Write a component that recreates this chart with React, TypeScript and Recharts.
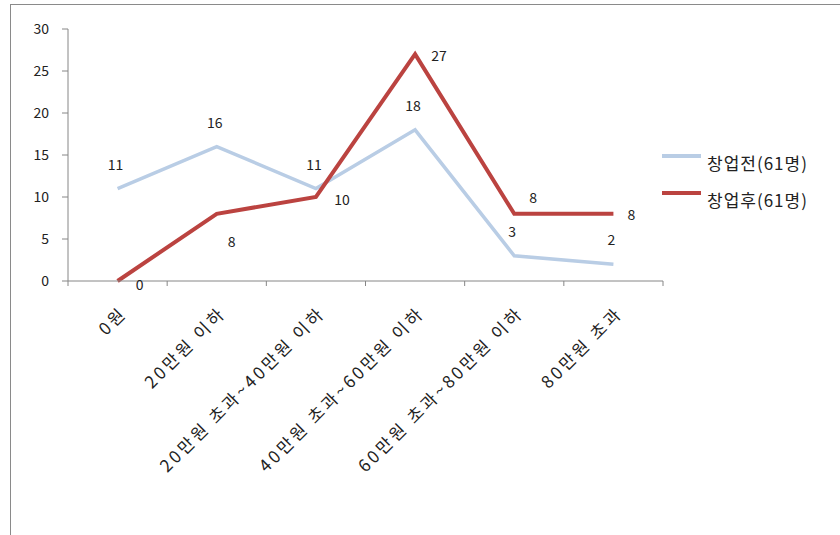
import { LineChart, Line, XAxis, YAxis, Legend, LabelList } from 'recharts';

const categories = [
  '0원',
  '20만원 이하',
  '20만원 초과~40만원 이하',
  '40만원 초과~60만원 이하',
  '60만원 초과~80만원 이하',
  '80만원 초과',
];
const beforeCounts = [11, 16, 11, 18, 3, 2];
const afterCounts = [0, 8, 10, 27, 8, 8];
const seriesNames = ['창업전(61명)', '창업후(61명)'];
const yTicks = [0, 5, 10, 15, 20, 25, 30];

// where each 창업후 value label sits relative to its point
const afterLabelShift = [
  [22, 3],
  [15, 27],
  [26, 2],
  [24, 1],
  [19, -17],
  [18, 0],
];

const BLUE = '#B9CDE5';
const RED = '#BB4340';
const AXIS = '#868686';
const FONT = "'Noto Sans CJK KR', 'Noto Sans', sans-serif";

const data = categories.map((name, i) => ({
  idx: i,
  name,
  before: beforeCounts[i],
  after: afterCounts[i],
}));

// category boundaries get tick marks, category centres get the labels
const xTicks = categories.flatMap((_, i) => [i - 0.5, i]).concat(categories.length - 0.5);

function CategoryTick({ x, y, payload }: any) {
  const v = payload.value;
  if (!Number.isInteger(v)) {
    return <line x1={x} x2={x} y1={y} y2={y + 5} stroke={AXIS} strokeWidth={1} />;
  }
  const ax = x + 5;
  const ay = y + 28;
  return (
    <text
      x={ax}
      y={ay}
      transform={`rotate(-45 ${ax} ${ay})`}
      textAnchor="end"
      dominantBaseline="central"
      fontSize={17}
      letterSpacing={3}
      fontFamily={FONT}
      fill="#222"
    >
      {categories[v]}
    </text>
  );
}

const BeforeLabel = (p: any) => (
  <text
    x={p.x - 2}
    y={p.y - 25}
    textAnchor="middle"
    dominantBaseline="central"
    fontSize={14}
    fontFamily={FONT}
    fill="#222"
  >
    {p.value}
  </text>
);

const AfterLabel = (p: any) => {
  const [dx, dy] = afterLabelShift[p.index] || [18, 0];
  return (
    <text
      x={p.x + dx}
      y={p.y + dy}
      textAnchor="middle"
      dominantBaseline="central"
      fontSize={14}
      fontFamily={FONT}
      fill="#222"
    >
      {p.value}
    </text>
  );
};

const LegendBox = ({ payload }: any) => (
  <div style={{ fontFamily: FONT }}>
    {(payload || []).map((item: any) => (
      <div key={item.value} style={{ display: 'flex', alignItems: 'center', height: 37 }}>
        <svg width={39} height={20} style={{ display: 'block' }}>
          <line x1={0} x2={39} y1={3} y2={3} stroke={item.color} strokeWidth={4} />
        </svg>
        <span style={{ marginLeft: 6, fontSize: 17, letterSpacing: 1, color: '#222' }}>
          {item.value}
        </span>
      </div>
    ))}
  </div>
);

export default function App() {
  return (
    <div
      style={{
        position: 'absolute',
        left: 0,
        top: 0,
        width: 840,
        height: 535,
        overflow: 'hidden',
        background: '#fff',
      }}
    >
      <div
        style={{
          position: 'absolute',
          left: 10,
          top: 4,
          width: 860,
          height: 560,
          border: '1px solid #8a8a8a',
        }}
      />
      <LineChart
        width={840}
        height={535}
        data={data}
        margin={{ top: 29, right: 177, bottom: 0, left: 0 }}
      >
        <XAxis
          dataKey="idx"
          type="number"
          domain={[-0.5, categories.length - 0.5]}
          ticks={xTicks}
          interval={0}
          tick={<CategoryTick />}
          tickLine={false}
          tickSize={0}
          tickMargin={0}
          axisLine={{ stroke: AXIS }}
          height={254}
        />
        <YAxis
          domain={[0, 30]}
          ticks={yTicks}
          interval={0}
          width={68}
          tickSize={6}
          tickMargin={13}
          axisLine={{ stroke: AXIS }}
          tickLine={{ stroke: AXIS }}
          tick={{ fontSize: 14, fill: '#222', fontFamily: FONT }}
        />
        <Legend
          layout="vertical"
          align="center"
          verticalAlign="middle"
          wrapperStyle={{ left: 662, top: 144, width: 178 }}
          content={<LegendBox />}
        />
        <Line
          name={seriesNames[0]}
          dataKey="before"
          stroke={BLUE}
          strokeWidth={3.5}
          dot={false}
          isAnimationActive={false}
        >
          <LabelList dataKey="before" content={<BeforeLabel />} />
        </Line>
        <Line
          name={seriesNames[1]}
          dataKey="after"
          stroke={RED}
          strokeWidth={4}
          dot={false}
          isAnimationActive={false}
        >
          <LabelList dataKey="after" content={<AfterLabel />} />
        </Line>
      </LineChart>
    </div>
  );
}
